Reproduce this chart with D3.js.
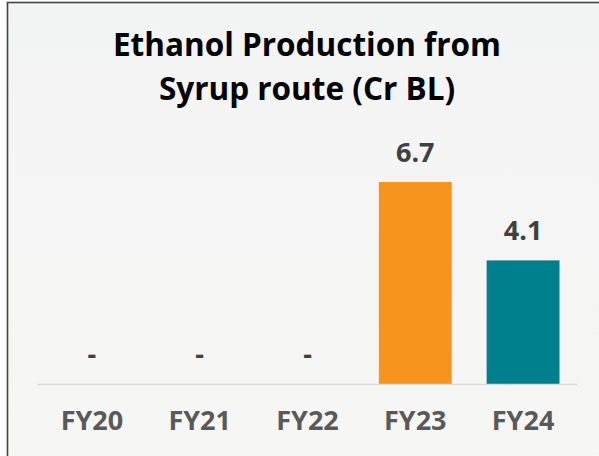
<!DOCTYPE html>
<html lang="en">
<head>
  <title>Ethanol Production from Syrup route</title>
  <meta charset="utf-8">
  <script src="https://d3js.org/d3.v7.min.js"></script>
  <style>
    body { margin: 0; background: #fff; }
    svg { display: block; font-family: "Open Sans", "Liberation Sans", sans-serif; }
  </style>
</head>
<body>
<svg width="599" height="456"></svg>

<script>
  // data (null = shown as "-")
  var categories = ["FY20", "FY21", "FY22", "FY23", "FY24"];
  var values = [null, null, null, 6.7, 4.1];
  var barColors = ["#f7941d", "#f7941d", "#f7941d", "#f7941d", "#00808c"];
  var titleLines = ["Ethanol Production from", "Syrup route (Cr BL)"];

  var svg = d3.select("svg");

  // background panel with soft gradient
  var defs = svg.append("defs");
  var grad = defs.append("linearGradient")
      .attr("id", "bg").attr("x1", 0).attr("y1", 0).attr("x2", 0).attr("y2", 1);
  grad.append("stop").attr("offset", "0%").attr("stop-color", "#f2f3f3");
  grad.append("stop").attr("offset", "100%").attr("stop-color", "#f6f7f4");

  svg.append("rect")
      .attr("x", 7.5).attr("y", 2.5)
      .attr("width", 620).attr("height", 470)
      .attr("fill", "url(#bg)")
      .attr("stroke", "#444")
      .attr("stroke-width", 1.6);

  var baseY = 384;

  var x = d3.scaleBand()
      .domain(categories)
      .range([37.5, 577.5])
      .paddingInner(0.324)
      .paddingOuter(0.167);

  var y = d3.scaleLinear()
      .domain([0, 6.7])
      .range([baseY, 182]);

  // title
  svg.append("text")
      .attr("text-anchor", "middle")
      .attr("font-size", 31.5)
      .attr("font-weight", 700)
      .attr("fill", "#000")
      .selectAll("tspan")
      .data(titleLines)
      .enter().append("tspan")
      .attr("x", 307)
      .attr("y", function(d, i) { return 56 + i * 44; })
      .text(function(d) { return d; });

  var rows = categories.map(function(c, i) { return {cat: c, v: values[i], color: barColors[i]}; });

  // bars
  svg.selectAll(".bar")
      .data(rows.filter(function(d) { return d.v !== null; }))
      .enter().append("rect")
      .attr("class", "bar")
      .attr("x", function(d) { return x(d.cat); })
      .attr("width", x.bandwidth())
      .attr("y", function(d) { return y(d.v); })
      .attr("height", function(d) { return baseY - y(d.v); })
      .attr("fill", function(d) { return d.color; });

  // baseline
  svg.append("line")
      .attr("x1", x.range()[0]).attr("x2", x.range()[1])
      .attr("y1", baseY + 0.5).attr("y2", baseY + 0.5)
      .attr("stroke", "#d9d9d9")
      .attr("stroke-width", 1.5);

  // value labels
  svg.selectAll(".val")
      .data(rows)
      .enter().append("text")
      .attr("class", "val")
      .attr("x", function(d) { return x(d.cat) + x.bandwidth() / 2; })
      .attr("y", function(d) { return (d.v === null ? baseY : y(d.v)) - 20; })
      .attr("text-anchor", "middle")
      .attr("font-size", 27)
      .attr("font-weight", 700)
      .attr("fill", "#404040")
      .text(function(d) { return d.v === null ? "-" : d.v.toFixed(1); });

  // category axis
  var xAxis = d3.axisBottom(x).tickSize(0).tickPadding(0);
  var ax = svg.append("g")
      .attr("transform", "translate(0," + baseY + ")")
      .call(xAxis);
  ax.select(".domain").remove();
  ax.selectAll("text")
      .attr("dy", null)
      .attr("y", 46)
      .attr("font-family", "\"Open Sans\", \"Liberation Sans\", sans-serif")
      .attr("font-size", 27)
      .attr("font-weight", 700)
      .attr("fill", "#595959");
</script>
</body>
</html>
